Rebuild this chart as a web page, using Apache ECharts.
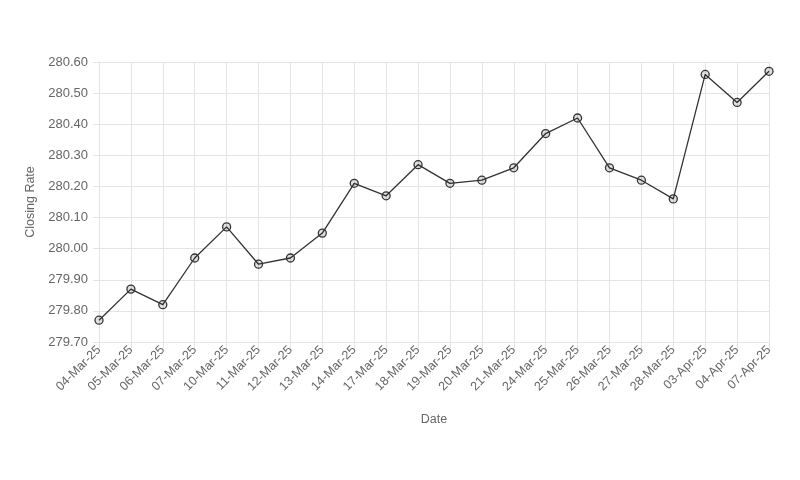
<!DOCTYPE html>
<html><head><meta charset="utf-8">
<script src="https://cdn.jsdelivr.net/npm/echarts@6/dist/echarts.min.js"></script>
<style>html,body{margin:0;padding:0;background:#fff}#c{width:800px;height:480px}</style>
</head><body><div id="c"></div>
<script>
const dates = ["04-Mar-25","05-Mar-25","06-Mar-25","07-Mar-25","10-Mar-25","11-Mar-25","12-Mar-25","13-Mar-25","14-Mar-25","17-Mar-25","18-Mar-25","19-Mar-25","20-Mar-25","21-Mar-25","24-Mar-25","25-Mar-25","26-Mar-25","27-Mar-25","28-Mar-25","03-Apr-25","04-Apr-25","07-Apr-25"];
const closingRates = [279.77,279.87,279.82,279.97,280.07,279.95,279.97,280.05,280.21,280.17,280.27,280.21,280.22,280.26,280.37,280.42,280.26,280.22,280.16,280.56,280.47,280.57];
const chart = echarts.init(document.getElementById('c'), null, {renderer:'canvas'});
const gridColor = '#e4e4e4';
const txt = '#666';
const font = 'Liberation Sans, Arial, sans-serif';
chart.setOption({
  animation:false,
  grid:{left:99,right:31,top:62,bottom:138,containLabel:false},
  xAxis:{type:'category',data:dates,boundaryGap:false,
    name:'Date',nameLocation:'middle',nameGap:71,
    nameTextStyle:{color:txt,fontSize:12.5,fontFamily:font},
    axisLine:{show:true,lineStyle:{color:gridColor}},
    axisTick:{show:true,length:6,lineStyle:{color:gridColor},alignWithLabel:true},
    axisLabel:{rotate:45,color:txt,fontSize:12.5,fontFamily:font,interval:0,margin:6},
    splitLine:{show:true,lineStyle:{color:gridColor}}},
  yAxis:{type:'value',min:279.7,max:280.6,interval:0.1,
    name:'Closing Rate',nameLocation:'middle',nameGap:53,nameRotate:90,
    nameTextStyle:{color:txt,fontSize:12.5,fontFamily:font},
    axisLine:{show:true,lineStyle:{color:gridColor}},
    axisTick:{show:true,length:6,lineStyle:{color:gridColor}},
    axisLabel:{color:txt,fontSize:13,fontFamily:font,margin:11,formatter:v=>v.toFixed(2)},
    splitLine:{show:true,lineStyle:{color:gridColor}}},
  series:[{type:'line',data:closingRates,symbol:'circle',symbolSize:8,
    lineStyle:{color:'#333',width:1.3},
    itemStyle:{color:'rgba(0,0,0,0.12)',borderColor:'#333',borderWidth:1.3}}]
});
</script></body></html>
